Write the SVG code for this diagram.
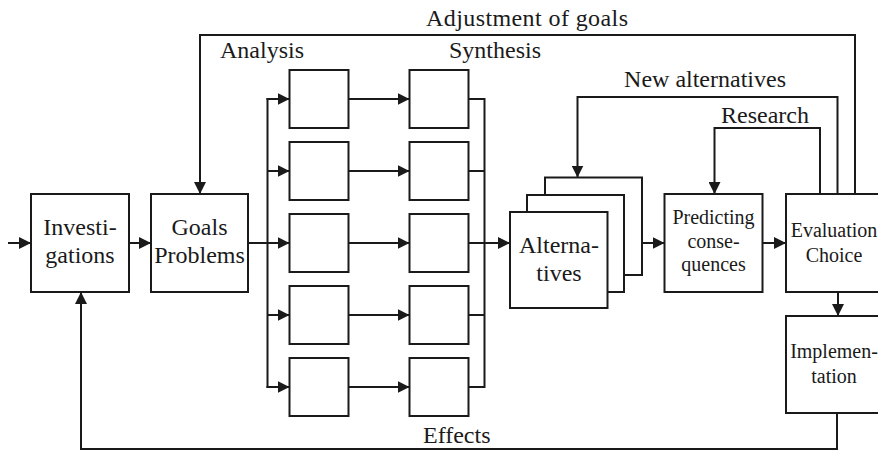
<svg xmlns="http://www.w3.org/2000/svg" width="878" height="451" viewBox="0 0 878 451">
  <style>
    .box { fill: #fff; stroke: #1a1a1a; stroke-width: 2; }
    .ln { fill: none; stroke: #1a1a1a; stroke-width: 2; }
    .arr { fill: none; stroke: #1a1a1a; stroke-width: 2; marker-end: url(#head); }
    .big { font-size: 24px; }
    .small { font-size: 20px; }
    .mid { text-anchor: middle; }
  </style>
  <defs>
    <marker id="head" markerUnits="userSpaceOnUse" markerWidth="12" markerHeight="12" refX="12" refY="6" orient="auto">
      <path d="M0,0 L12,6 L0,12 z" fill="#1a1a1a"/>
    </marker>
  </defs>

  <rect width="878" height="451" fill="#fff"/>

  <!-- connectors -->
  <g id="connectors">
    <line class="arr" x1="8" y1="243" x2="31" y2="243"/>
    <line class="arr" x1="129" y1="243" x2="151" y2="243"/>
    <line class="arr" x1="248" y1="243" x2="289.5" y2="243"/>
    <!-- analysis fan-out bus -->
    <line class="ln" x1="267.5" y1="98" x2="267.5" y2="388"/>
    <line class="arr" x1="266.5" y1="99" x2="289.5" y2="99"/>
    <line class="arr" x1="267.5" y1="171" x2="289.5" y2="171"/>
    <line class="arr" x1="267.5" y1="315" x2="289.5" y2="315"/>
    <line class="arr" x1="266.5" y1="387" x2="289.5" y2="387"/>
    <!-- analysis to synthesis -->
    <line class="arr" x1="348.5" y1="99" x2="409.5" y2="99"/>
    <line class="arr" x1="348.5" y1="171" x2="409.5" y2="171"/>
    <line class="arr" x1="348.5" y1="243" x2="409.5" y2="243"/>
    <line class="arr" x1="348.5" y1="315" x2="409.5" y2="315"/>
    <line class="arr" x1="348.5" y1="387" x2="409.5" y2="387"/>
    <!-- synthesis fan-in bus -->
    <path class="ln" d="M468.5,99 H484.5 V387 H468.5"/>
    <line class="ln" x1="468.5" y1="171" x2="484.5" y2="171"/>
    <line class="ln" x1="468.5" y1="315" x2="484.5" y2="315"/>
    <line class="arr" x1="468.5" y1="243" x2="510" y2="243"/>
    <!-- main chain -->
    <line class="arr" x1="642" y1="243" x2="664.5" y2="243"/>
    <line class="arr" x1="762.5" y1="243" x2="786" y2="243"/>
    <line class="arr" x1="838" y1="292" x2="838" y2="316"/>
    <!-- feedback loops -->
    <path class="arr" d="M820,194 V128 H714.5 V194"/>
    <path class="arr" d="M837.5,194 V97 H577.5 V177.5"/>
    <path class="arr" d="M855,194 V35 H200 V194"/>
    <path class="arr" d="M837,413 V449 H81 V292"/>
  </g>

  <g font-family="Liberation Serif, Times New Roman, DejaVu Serif, serif" fill="#1a1a1a">
    <!-- nodes -->
    <g id="investigations">
      <rect class="box" x="31" y="194" width="98" height="98"/>
      <text class="big mid" x="80" y="235">Investi-</text>
      <text class="big mid" x="80" y="263">gations</text>
    </g>
    <g id="goals">
      <rect class="box" x="151" y="194" width="97" height="98"/>
      <text class="big mid" x="199.5" y="235">Goals</text>
      <text class="big mid" x="199.5" y="263">Problems</text>
    </g>
    <g id="analysis">
      <rect class="box" x="289.5" y="70" width="59" height="58"/>
      <rect class="box" x="289.5" y="142" width="59" height="58"/>
      <rect class="box" x="289.5" y="214" width="59" height="58"/>
      <rect class="box" x="289.5" y="286" width="59" height="58"/>
      <rect class="box" x="289.5" y="358" width="59" height="58"/>
    </g>
    <g id="synthesis">
      <rect class="box" x="409.5" y="70" width="59" height="58"/>
      <rect class="box" x="409.5" y="142" width="59" height="58"/>
      <rect class="box" x="409.5" y="214" width="59" height="58"/>
      <rect class="box" x="409.5" y="286" width="59" height="58"/>
      <rect class="box" x="409.5" y="358" width="59" height="58"/>
    </g>
    <g id="alternatives">
      <rect class="box" x="545" y="177.5" width="97" height="97.5"/>
      <rect class="box" x="527" y="195" width="97" height="97"/>
      <rect class="box" x="510" y="212" width="97.5" height="96"/>
      <text class="big mid" x="559" y="253">Alterna-</text>
      <text class="big mid" x="559" y="281">tives</text>
    </g>
    <g id="predicting">
      <rect class="box" x="664.5" y="194" width="98" height="98"/>
      <text class="small mid" x="713.5" y="224">Predicting</text>
      <text class="small mid" x="713.5" y="247.5">conse-</text>
      <text class="small mid" x="713.5" y="271">quences</text>
    </g>
    <g id="evaluation">
      <rect class="box" x="786" y="194" width="97" height="98"/>
      <text class="small mid" x="834" y="237">Evaluation</text>
      <text class="small mid" x="834" y="261.5">Choice</text>
    </g>
    <g id="implementation">
      <rect class="box" x="786" y="316" width="97" height="97"/>
      <text class="small mid" x="834" y="357.5">Implemen-</text>
      <text class="small mid" x="834" y="383">tation</text>
    </g>

    <!-- loop and column labels -->
    <g id="labels">
      <text class="big" x="426" y="26" textLength="202">Adjustment of goals</text>
      <text class="big" x="220" y="58">Analysis</text>
      <text class="big" x="449" y="58">Synthesis</text>
      <text class="big" x="786" y="87" text-anchor="end">New alternatives</text>
      <text class="big" x="721" y="122.5">Research</text>
      <text class="big" x="423" y="443">Effects</text>
    </g>
  </g>
</svg>
